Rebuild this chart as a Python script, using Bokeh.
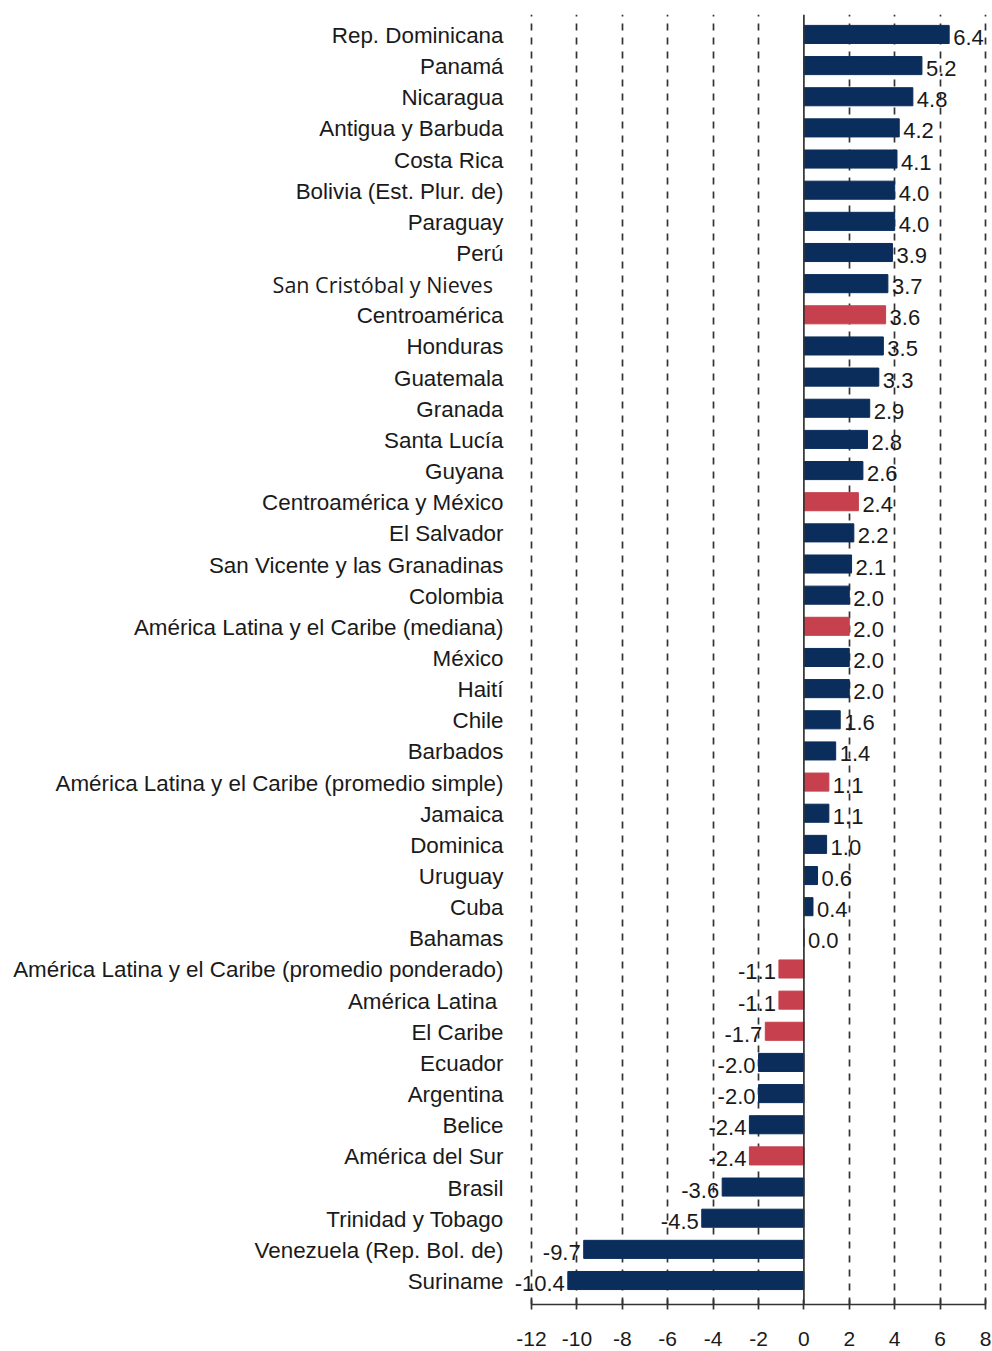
from bokeh.plotting import figure
from bokeh.models import ColumnDataSource, Range1d, FixedTicker, Span
from bokeh.core.properties import value
from bokeh.embed import file_html
from bokeh.resources import INLINE

categories = [
    "Rep. Dominicana", "Panamá", "Nicaragua", "Antigua y Barbuda", "Costa Rica",
    "Bolivia (Est. Plur. de)", "Paraguay", "Perú", "San Cristóbal  y Nieves",
    "Centroamérica", "Honduras", "Guatemala", "Granada", "Santa Lucía", "Guyana",
    "Centroamérica y México", "El Salvador", "San Vicente y las Granadinas",
    "Colombia", "América Latina y el Caribe (mediana)", "México", "Haití", "Chile",
    "Barbados", "América Latina y el Caribe (promedio simple)", "Jamaica",
    "Dominica", "Uruguay", "Cuba", "Bahamas",
    "América Latina y el Caribe (promedio ponderado)", "América Latina ",
    "El Caribe", "Ecuador", "Argentina", "Belice", "América del Sur", "Brasil",
    "Trinidad y Tobago", "Venezuela (Rep. Bol. de)", "Suriname",
]
values = [6.4, 5.2, 4.8, 4.2, 4.1, 4.0, 4.0, 3.9, 3.7, 3.6, 3.5, 3.3, 2.9, 2.8,
          2.6, 2.4, 2.2, 2.1, 2.0, 2.0, 2.0, 2.0, 1.6, 1.4, 1.1, 1.1, 1.0, 0.6,
          0.4, 0.0, -1.1, -1.1, -1.7, -2.0, -2.0, -2.4, -2.4, -3.6, -4.5, -9.7,
          -10.4]
aggregates = ["Centroamérica", "Centroamérica y México",
              "América Latina y el Caribe (mediana)",
              "América Latina y el Caribe (promedio simple)",
              "América Latina y el Caribe (promedio ponderado)",
              "América Latina ", "El Caribe", "América del Sur"]
odd_font_label = "San Cristóbal  y Nieves"
x_ticks = [-12, -10, -8, -6, -4, -2, 0, 2, 4, 6, 8]
x_tick_labels = ["-12", "-10", "-8", "-6", "-4", "-2", "0", "2", "4", "6", "8"]

NAVY = "#0a2d5c"
RED = "#c7404d"
TXT = "#1a1a1a"
FONT = "Liberation Sans"
AXIS_MIN, AXIS_MAX = -12, 8

n = len(categories)
ys = [n - 1 - i for i in range(n)]
colors = [RED if c in aggregates else NAVY for c in categories]
labels = [f"{v:.1f}" for v in values]
pos = [v >= 0 for v in values]


def subset(flags):
    return ColumnDataSource(dict(
        x=[v for v, f in zip(values, flags) if f],
        y=[y for y, f in zip(ys, flags) if f],
        t=[l for l, f in zip(labels, flags) if f]))


src_pos = subset(pos)
src_neg = subset([not f for f in pos])
bars = ColumnDataSource(dict(y=ys, right=values, color=colors))
normal = [c != odd_font_label for c in categories]
cat_norm = ColumnDataSource(dict(
    y=[y for y, f in zip(ys, normal) if f],
    t=[c for c, f in zip(categories, normal) if f]))
cat_odd = ColumnDataSource(dict(
    y=[y for y, f in zip(ys, normal) if not f],
    t=[c for c, f in zip(categories, normal) if not f]))

# frame spans the whole figure width; the axis is bounded to -12..8
W, H = 992, 1351
px_per_unit = 22.7
x_start = AXIS_MIN - 531 / px_per_unit
x_end = AXIS_MAX + (W - 985) / px_per_unit

p = figure(width=W, height=H, output_backend="svg", toolbar_location=None,
           x_range=Range1d(x_start, x_end), y_range=Range1d(-0.77, n - 1 + 0.64),
           min_border_left=0, min_border_right=0, min_border_top=14,
           min_border_bottom=47)
p.outline_line_color = None
p.background_fill_color = "white"
p.yaxis.visible = False

p.xgrid.ticker = FixedTicker(ticks=[t for t in x_ticks if t != 0])
p.xgrid.grid_line_color = "#333333"
p.xgrid.grid_line_width = 1.7
p.xgrid.grid_line_dash = "7 7"
p.ygrid.grid_line_color = None

p.hbar(y="y", left=0, right="right", height=0.58, color="color",
       line_color="color", source=bars)

p.add_layout(Span(location=0, dimension="height", line_color="#333333",
                  line_width=1.7))

p.xaxis.bounds = (AXIS_MIN, AXIS_MAX)
p.xaxis.ticker = FixedTicker(ticks=x_ticks)
p.xaxis.major_label_overrides = dict(zip(x_ticks, x_tick_labels))
p.xaxis.axis_line_color = "#333333"
p.xaxis.axis_line_width = 1.7
p.xaxis.major_tick_line_color = "#333333"
p.xaxis.major_tick_line_width = 1.7
p.xaxis.major_tick_in = 5
p.xaxis.major_tick_out = 5
p.xaxis.minor_tick_line_color = None
p.xaxis.major_label_standoff = 22
p.xaxis.major_label_text_font = FONT
p.xaxis.major_label_text_font_size = "21px"
p.xaxis.major_label_text_color = TXT

# category labels
p.text(x=AXIS_MIN, y="y", text="t", source=cat_norm, x_offset=-28, y_offset=1,
       text_align="right", text_baseline="middle", text_font=value(FONT),
       text_font_size="22.4px", text_color=TXT)
p.text(x=AXIS_MIN, y="y", text="t", source=cat_odd, x_offset=-33, y_offset=1,
       text_align="right", text_baseline="middle", text_font=value("Open Sans"),
       text_font_size="21.5px", text_color=TXT)

# value labels
p.text(x="x", y="y", text="t", source=src_pos, x_offset=4, y_offset=3,
       text_align="left", text_baseline="middle", text_font=value(FONT),
       text_font_size="22px", text_color=TXT)
p.text(x="x", y="y", text="t", source=src_neg, x_offset=-3, y_offset=3,
       text_align="right", text_baseline="middle", text_font=value(FONT),
       text_font_size="22px", text_color=TXT)

open("out.html", "w").write(file_html(p, INLINE))
